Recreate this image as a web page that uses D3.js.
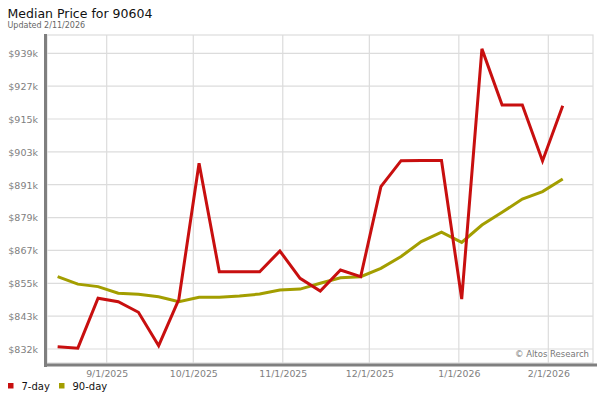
<!DOCTYPE html>
<html><head><meta charset="utf-8">
<script src="https://cdn.jsdelivr.net/npm/d3@7"></script>
<style>
html,body{margin:0;padding:0;background:#fff;}
text{font-family:"DejaVu Sans",sans-serif;}
</style></head>
<body><svg id="c" width="600" height="400"></svg>
<script>
// ---- data ----
const dates = ["2025-08-15","2025-08-22","2025-08-29","2025-09-05","2025-09-12","2025-09-19","2025-09-26",
  "2025-10-03","2025-10-10","2025-10-17","2025-10-24","2025-10-31","2025-11-07","2025-11-14","2025-11-21",
  "2025-11-28","2025-12-05","2025-12-12","2025-12-19","2025-12-26","2026-01-02","2026-01-09","2026-01-16",
  "2026-01-23","2026-01-30","2026-02-06"];
const sevenDay = [832.3,831.8,849.9,848.6,844.8,832.7,849.5,898.8,859.5,859.5,859.5,867.0,857.1,852.5,860.1,
  857.7,890.3,899.7,899.8,899.8,849.6,940.2,919.9,919.9,899.6,919.6];
const ninetyDay = [857.7,855.0,854.1,851.7,851.3,850.4,848.6,850.2,850.2,850.7,851.4,852.9,853.2,855.3,857.3,
  857.7,860.7,865.0,870.4,873.8,870.1,876.4,881.0,885.8,888.5,893.1];
const yTickValues = [831.5,843.4,855.3,867.2,879.1,891.0,902.9,914.8,926.7,938.6];
const yTickLabels = ["$832k","$843k","$855k","$867k","$879k","$891k","$903k","$915k","$927k","$939k"];
const xTickDates = ["2025-09-01","2025-10-01","2025-11-01","2025-12-01","2026-01-01","2026-02-01"];
const xTickLabels = ["9/1/2025","10/1/2025","11/1/2025","12/1/2025","1/1/2026","2/1/2026"];
const seriesNames = ["7-day","90-day"];
const seriesColors = ["#c80f0f","#a39e00"];

// ---- layout ----
const svg = d3.select("#c");
const L = 47, R = 593, T = 35, B = 363;
const parse = d3.timeParse("%Y-%m-%d");
const x = d3.scaleTime().domain([parse("2025-09-01"), parse("2026-02-01")]).range([106.7, 548.3]);
const y = d3.scaleLinear().domain([yTickValues[0], yTickValues[9]]).range([349, 53.3]);

// title
svg.append("text").attr("x",7.5).attr("y",18).attr("font-size",12.5).attr("fill","#111").text("Median Price for 90604");
svg.append("text").attr("x",7.5).attr("y",28).attr("font-size",8).attr("fill","#666").text("Updated 2/11/2026");

// plot background + border
svg.append("rect").attr("x",L).attr("y",T).attr("width",R-L).attr("height",B-T).attr("fill","#fff")
  .attr("stroke","#dcdcdc").attr("stroke-width",1.2);

// gridlines
const g = svg.append("g");
g.selectAll(".hg").data(yTickValues).enter().append("line")
  .attr("x1",L).attr("x2",R).attr("y1",d=>y(d)).attr("y2",d=>y(d))
  .attr("stroke","#dcdcdc").attr("stroke-width",1.2);
g.selectAll(".vg").data(xTickDates).enter().append("line")
  .attr("y1",T).attr("y2",B).attr("x1",d=>x(parse(d))).attr("x2",d=>x(parse(d)))
  .attr("stroke","#dcdcdc").attr("stroke-width",1.2);

// axes bars
svg.append("rect").attr("x",44).attr("y",34).attr("width",3).attr("height",333).attr("fill","#7f7f7f");
svg.append("rect").attr("x",44).attr("y",363.5).attr("width",553).attr("height",3).attr("fill","#7f7f7f");

// y labels
const yAxis = d3.axisLeft(y).tickValues(yTickValues).tickSize(0).tickPadding(0)
  .tickFormat((d,i)=>yTickLabels[i]);
const ya = svg.append("g").attr("transform","translate(38,0)").call(yAxis);
ya.select(".domain").remove();
ya.selectAll("text").attr("font-size",9.5).attr("fill","#808080").attr("font-family","DejaVu Sans").attr("dy","0.35em");

// x labels
const xAxis = d3.axisBottom(x).tickValues(xTickDates.map(parse)).tickSize(0).tickPadding(0)
  .tickFormat((d,i)=>xTickLabels[i]);
const xa = svg.append("g").attr("transform","translate(0,370.5)").call(xAxis);
xa.select(".domain").remove();
xa.selectAll("text").attr("font-size",9.4).attr("fill","#808080").attr("font-family","DejaVu Sans");

// copyright
svg.append("text").attr("x",589).attr("y",357).attr("text-anchor","end").attr("font-size",8.5)
  .attr("fill","#777").text("\u00a9 Altos Research");

// lines
const line = d3.line().x(d=>x(parse(d[0]))).y(d=>y(d[1]));
[ninetyDay, sevenDay].forEach((vals,k)=>{
  const idx = k===0 ? 1 : 0;
  svg.append("path").datum(dates.map((d,i)=>[d, vals[i]]))
    .attr("d",line).attr("fill","none").attr("stroke",seriesColors[idx])
    .attr("stroke-width",3).attr("stroke-linejoin","miter");
});

// legend
const lg = svg.append("g");
const legX = [8, 59];
seriesNames.forEach((n,i)=>{
  lg.append("rect").attr("x",legX[i]).attr("y",383).attr("width",5.5).attr("height",5.5).attr("fill",seriesColors[i]);
  lg.append("text").attr("x",legX[i]+13.5).attr("y",390).attr("font-size",10).attr("fill","#111").text(n);
});
</script></body></html>
